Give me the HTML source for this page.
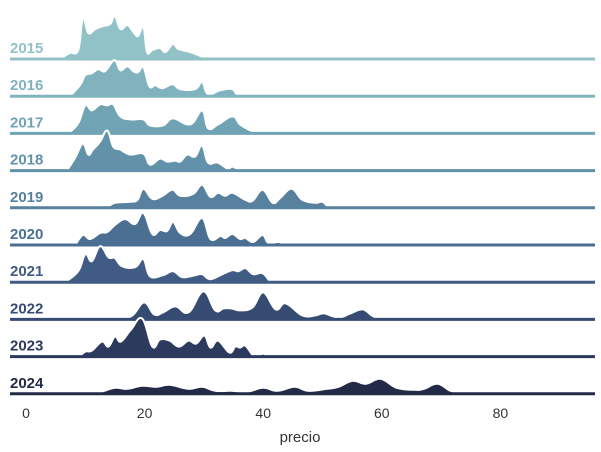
<!DOCTYPE html>
<html><head><meta charset="utf-8"><style>
html,body{margin:0;padding:0;background:#fff;}
svg{display:block;font-family:"Liberation Sans",sans-serif;}
</style></head><body>
<svg id="chart" width="601" height="452" viewBox="0 0 601 452">
<g id="rows"></g>
<g id="xaxis"></g>
<text x="300" y="442" text-anchor="middle" font-size="15" fill="#333">precio</text>
</svg>
<script>
const years = ["2015","2016","2017","2018","2019","2020","2021","2022","2023","2024"];
const colors = ["#90c2c8","#80b3be","#70a3b4","#6292aa","#57819f","#4b6f93","#405c84","#364b72","#2c3a5d","#222a47"];
const xTicks = [0,20,40,60,80];
const x2015 = [5.7,7.4,8.8,9.6,10.5,11.7,13.0,14.2,15.0,15.9,17.1,18.1,18.9,19.8,20.4,21.3,22.6,23.5,24.8,25.7,27.7,29.4,30.4,31.1];
const d2015 = [0,6,9,41,26,30,33,35,43,30,34,27,23,32,7,9,11,7,15,10,7,3,1,0];
const x2016 = [7.4,9.1,10.0,11.1,12.2,13.3,14.9,15.9,17.1,18.1,18.9,19.8,20.8,21.8,23.0,24.7,26.0,28.5,29.7,30.7,32.8,34.8,36.1,39.9,40.9];
const d2016 = [0,11,21,23,27,25,36,26,30,25,24,29,10,11,8,12,7,7,14,2,6,7,0,1,0];
const x2017 = [7.1,8.8,10.0,11.1,12.5,13.7,14.7,15.9,17.6,19.8,20.9,23.1,24.8,27.7,29.7,30.7,32.4,34.8,36.1,37.8,39.2];
const d2017 = [0,10,28,23,29,28,29,17,14,14,8,8,15,9,23,5,9,17,9,3,0];
const x2018 = [6.9,8.3,9.6,10.5,11.3,12.5,13.7,14.7,15.9,17.6,19.8,20.9,22.6,23.8,25.2,26.0,27.2,28.5,29.7,30.7,32.3,34.0,34.8,36.1];
const d2018 = [0,13,27,16,21,29,40,24,21,16,17,6,12,9,10,9,16,14,25,8,8,2,4,0];
const x2019 = [9.1,13.3,15.0,17.6,18.8,19.8,21.3,23.0,24.7,26.0,28.2,29.7,31.1,32.4,33.6,34.8,37.0,38.2,39.9,41.6,42.9,44.8,46.6,48.8,50.0,51.0];
const d2019 = [0,1,5,6,8,19,9,12,18,12,14,23,11,15,12,15,8,7,18,5,10,19,8,5,6,0];
const x2020 = [8.3,9.6,10.8,12.5,13.7,15.0,16.7,18.4,19.8,21.3,22.6,23.8,24.8,26.0,27.7,29.7,31.1,32.8,33.6,34.8,36.1,37.0,38.3,39.9,40.9,42.6,43.8];
const d2020 = [0,10,6,12,13,20,26,21,32,11,15,14,23,12,11,27,6,9,7,11,6,7,3,10,2,3,0];
const x2021 = [6.6,8.8,10.0,11.1,12.5,13.9,15.0,16.2,18.4,19.8,20.9,23.1,24.8,26.4,28.5,29.7,31.1,33.1,34.8,35.8,37.0,38.3,39.9,41.2];
const d2021 = [0,11,28,21,36,25,24,16,15,23,6,7,11,5,7,8,3,8,12,11,14,8,9,0];
const x2022 = [14.4,17.7,19.9,21.6,23.1,25.2,27.4,29.9,31.9,33.3,34.6,36.1,38.2,40.0,42.1,43.8,46.6,48.8,50.2,52.7,54.7,56.8,58.6,60.6,61.1];
const d2022 = [0,3,17,5,7,13,7,28,9,11,11,9,12,27,10,16,4,4,6,2,6,10,3,1,0];
const x2023 = [9.0,10.0,11.1,12.8,13.9,15.0,16.0,17.7,19.6,21.3,22.6,24.2,25.8,27.4,28.7,30.1,31.1,32.4,34.3,35.3,36.1,37.0,38.3,39.0,40.0,40.7];
const d2023 = [0,5,6,15,10,20,15,27,38,10,17,16,10,16,13,21,9,16,4,10,9,11,1,0,3,0];
const x2024 = [11.8,12.8,15.0,17.1,19.6,22.0,24.2,27.4,29.7,31.9,34.6,37.2,40.0,42.4,45.3,47.6,50.8,52.7,55.1,57.3,59.8,62.5,65.4,67.1,69.4,71.6,73.6,76.5,77.5];
const d2024 = [0,2,6,5,8,7,9,5,7,3,3,2,6,3,7,3,5,7,13,10,15,6,4,5,10,3,1,1,0];
const xsAll = [x2015,x2016,x2017,x2018,x2019,x2020,x2021,x2022,x2023,x2024];
const dsAll = [d2015,d2016,d2017,d2018,d2019,d2020,d2021,d2022,d2023,d2024];

const NS = "http://www.w3.org/2000/svg";
function xScale(v){ return 26 + v * 5.93; }
function baseY(i){ return 59 + i * 37.2; }
function hScale(d){ return d * 1.0; }

function smoothPath(pts){
  let s = "M" + pts[0][0].toFixed(1) + "," + pts[0][1].toFixed(1);
  for (let i = 0; i < pts.length - 1; i++) {
    const p0 = pts[Math.max(0,i-1)], p1 = pts[i], p2 = pts[i+1], p3 = pts[Math.min(pts.length-1,i+2)];
    const t = 0.2;
    const c1x = p1[0] + (p2[0]-p0[0])*t, c1y = p1[1] + (p2[1]-p0[1])*t;
    const c2x = p2[0] - (p3[0]-p1[0])*t, c2y = p2[1] - (p3[1]-p1[1])*t;
    s += " C" + c1x.toFixed(1) + "," + c1y.toFixed(1) + " " + c2x.toFixed(1) + "," + c2y.toFixed(1) + " " + p2[0].toFixed(1) + "," + p2[1].toFixed(1);
  }
  return s;
}

const rows = document.getElementById("rows");
years.forEach((yr, i) => {
  const g = document.createElementNS(NS, "g");
  
  
  const by = baseY(i);
  const pts = xsAll[i].map((x, k) => [xScale(x), by - hScale(dsAll[i][k])]);
  const line = smoothPath(pts);
  const area = document.createElementNS(NS, "path");
  area.setAttribute("d", line + " L" + pts[pts.length-1][0].toFixed(1) + "," + by + " L" + pts[0][0].toFixed(1) + "," + by + " Z");
  area.setAttribute("fill", colors[i]);
  
  
  g.appendChild(area);
  const outline = document.createElementNS(NS, "path");
  outline.setAttribute("d", line);
  outline.setAttribute("fill", "none");
  outline.setAttribute("stroke", "#fff");
  outline.setAttribute("stroke-width", "2");
  
  
  g.appendChild(outline);
  const base = document.createElementNS(NS, "line");
  base.setAttribute("x1", 10); base.setAttribute("x2", 595);
  base.setAttribute("y1", by); base.setAttribute("y2", by);
  base.setAttribute("stroke", colors[i]);
  base.setAttribute("stroke-width", "3");
  
  
  g.appendChild(base);
  const lab = document.createElementNS(NS, "text");
  lab.setAttribute("x", 10); lab.setAttribute("y", by - 6);
  lab.setAttribute("font-size", "15"); lab.setAttribute("font-weight", "bold");
  lab.setAttribute("fill", colors[i]);
  lab.textContent = yr;
  
  
  g.appendChild(lab);
  rows.appendChild(g);
});

const xaxis = document.getElementById("xaxis");
xTicks.forEach(t => {
  const tx = document.createElementNS(NS, "text");
  tx.setAttribute("x", xScale(t)); tx.setAttribute("y", 418);
  tx.setAttribute("text-anchor", "middle");
  tx.setAttribute("font-size", "14"); tx.setAttribute("fill", "#333");
  tx.textContent = t;
  
  
  xaxis.appendChild(tx);
});
</script>
</body></html>
